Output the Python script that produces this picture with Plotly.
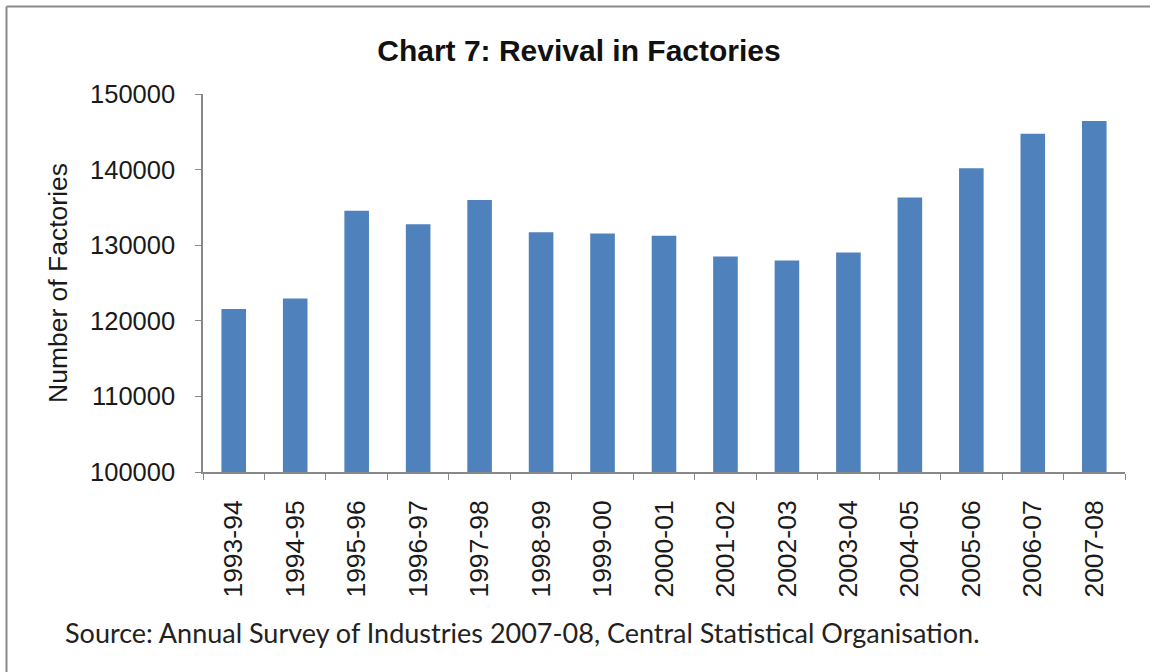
import plotly.graph_objects as go

years = ["1993-94", "1994-95", "1995-96", "1996-97", "1997-98", "1998-99", "1999-00",
         "2000-01", "2001-02", "2002-03", "2003-04", "2004-05", "2005-06", "2006-07", "2007-08"]
factories = [121550, 122950, 134570, 132780, 135980, 131710, 131540,
             131240, 128500, 127960, 129030, 136300, 140170, 144740, 146430]

title_text = "Chart 7: Revival in Factories"
y_title = "Number of Factories"
source_text = "Source: Annual Survey of Industries 2007-08, Central Statistical Organisation."
y_ticks = [100000, 110000, 120000, 130000, 140000, 150000]

W, H = 1150, 672
L, R, T, B = 203, 25, 94, 200
pw, ph = W - L - R, H - T - B

def px(x):
    return (x - L) / pw

def py(y):
    return (H - B - y) / ph

fig = go.Figure(go.Bar(x=years, y=factories, marker=dict(color="#4F81BD", line=dict(width=0)),
                       width=0.4))

fig.update_layout(
    width=W, height=H,
    margin=dict(l=L, r=R, t=T, b=B),
    paper_bgcolor="white", plot_bgcolor="white",
    font=dict(family="Liberation Sans, Arial, sans-serif", color="#1a1a1a"),
    showlegend=False,
    title=dict(text=title_text, x=579 / W, xanchor="center", y=1 - 50 / H, yanchor="middle",
               font=dict(size=30, color="#111111", family="Liberation Sans, Arial, sans-serif",
                         weight="bold")),
)

fig.update_yaxes(range=[100000, 150000], tickvals=y_ticks, ticktext=[str(v) for v in y_ticks],
                 showgrid=False, zeroline=False, showline=True, linecolor="#888888", linewidth=1.5,
                 ticks="outside", ticklen=6, tickcolor="#888888", ticklabelstandoff=15,
                 tickfont=dict(size=25.5, color="#1a1a1a"))
fig.update_xaxes(type="category", showgrid=False, showline=True, linecolor="#888888", linewidth=1.5,
                 ticks="outside", ticklen=6, tickcolor="#888888", tickson="boundaries",
                 ticklabelstandoff=16,
                 tickangle=-90, tickfont=dict(size=26.5, color="#1a1a1a"))

fig.add_annotation(text=y_title, xref="paper", yref="paper", x=px(58), y=0.5,
                   xanchor="center", yanchor="middle", textangle=-90, showarrow=False,
                   font=dict(size=26.5, color="#1a1a1a"))
fig.add_annotation(text=source_text, xref="paper", yref="paper", x=px(63), y=py(632),
                   xanchor="left", yanchor="middle", showarrow=False,
                   font=dict(size=27, color="#222222", family="Lato, Open Sans, sans-serif"))

# outer frame (left and top edges)
fig.add_shape(type="line", xref="paper", yref="paper", x0=px(6.5), x1=px(6.5), y0=py(6.5), y1=py(H),
              line=dict(color="#8a8a8a", width=2))
fig.add_shape(type="line", xref="paper", yref="paper", x0=px(6.5), x1=px(W), y0=py(6.5), y1=py(6.5),
              line=dict(color="#8a8a8a", width=2))

fig.write_html("out.html")
